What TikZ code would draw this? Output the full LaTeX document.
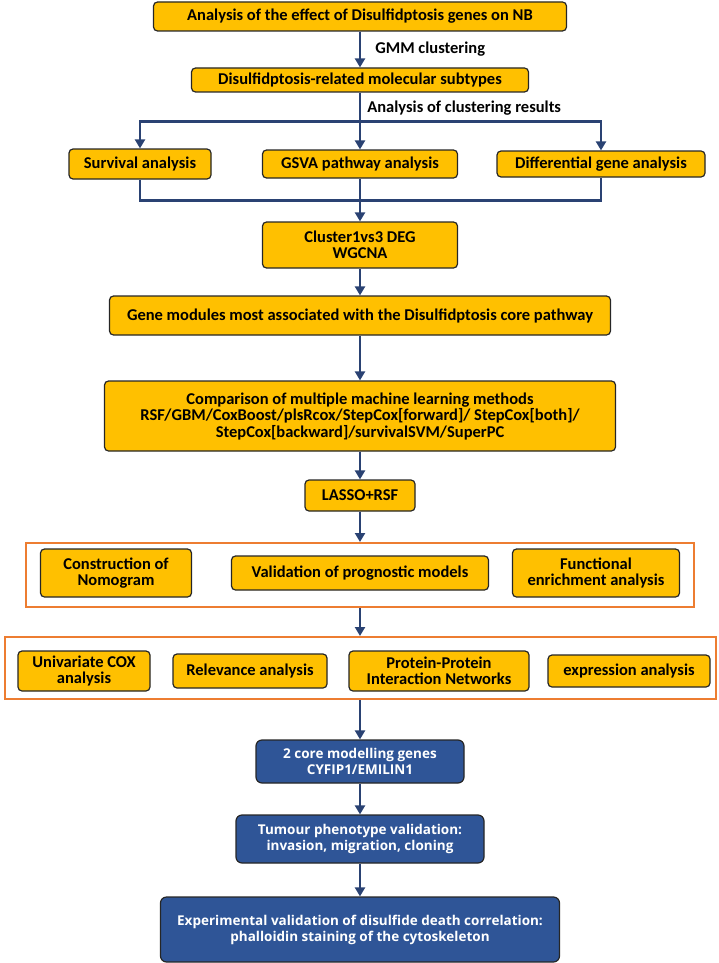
\documentclass[tikz,border=0pt]{standalone}
\usepackage{fontspec}
\setmainfont{Carlito}
\newfontfamily\bluefont{Open Sans}
\usetikzlibrary{arrows.meta}

\definecolor{gold}{HTML}{FFC000}
\definecolor{deepblue}{HTML}{2F5597}
\definecolor{arrowblue}{HTML}{2A4273}
\definecolor{frameorange}{HTML}{ED7D31}
\definecolor{boxedge}{HTML}{262626}

\tikzset{
  stage/.style={rectangle, rounded corners=4pt, draw=boxedge, line width=1.2pt, fill=gold,
    align=center, inner sep=1pt, font=\bfseries\fontsize{16.5pt}{16.5pt}\selectfont},
  corebox/.style={stage, rounded corners=6pt, fill=deepblue, text=white,
    font=\bluefont\bfseries\fontsize{13.5pt}{16pt}\selectfont},
  panel/.style={rectangle, draw=frameorange, line width=2pt, fill=white},
  link/.style={draw=arrowblue, line width=2.7pt},
  flow/.style={link, -{Triangle[width=10pt,length=9pt]}},
  note/.style={font=\bfseries\fontsize{16.5pt}{16.5pt}\selectfont, inner sep=0pt}
}

\begin{document}
\begin{tikzpicture}[x=1pt,y=1pt]
  \useasboundingbox (0,0) rectangle (718,-963);

  % Define nodes
  \node (effect) [stage, minimum width=413pt, minimum height=29pt] at (360,-16.5) {Analysis of the effect of Disulfidptosis genes on NB};
  \node (subtypes) [stage, node distance=63.5pt, below of=effect, minimum width=337pt, minimum height=24pt] {Disulfidptosis-related molecular subtypes};
  \node (gsva) [stage, node distance=84pt, below of=subtypes, minimum width=195pt, minimum height=28pt] {GSVA pathway analysis};
  \node (survival) [stage, node distance=220pt, left of=gsva, minimum width=142pt, minimum height=30pt] {Survival analysis};
  \node (differential) [stage, node distance=241pt, right of=gsva, minimum width=208pt, minimum height=26pt] {Differential gene analysis};
  \node (cluster) [stage, node distance=81pt, below of=gsva, minimum width=195pt, minimum height=46pt] {Cluster1vs3 DEG\\WGCNA};
  \node (modules) [stage, node distance=70.5pt, below of=cluster, minimum width=501pt, minimum height=39pt] {Gene modules most associated with the Disulfidptosis core pathway};
  \node (methods) [stage, node distance=100.5pt, below of=modules, minimum width=511pt, minimum height=70pt] {Comparison of multiple machine learning methods\\RSF/GBM/CoxBoost/plsRcox/StepCox[forward]/ StepCox[both]/\\StepCox[backward]/survivalSVM/SuperPC};
  \node (lasso) [stage, node distance=79.5pt, below of=methods, minimum width=110pt, minimum height=31pt] {LASSO+RSF};

  \node (frame1) [panel, node distance=79.5pt, below of=lasso, minimum width=668pt, minimum height=64pt] {};
  \node (validation) [stage, node distance=77.5pt, below of=lasso, minimum width=257pt, minimum height=34pt] {Validation of prognostic models};
  \node (nomogram) [stage, node distance=244pt, left of=validation, minimum width=151pt, minimum height=48pt] {Construction of\\Nomogram};
  \node (functional) [stage, node distance=236pt, right of=validation, minimum width=167pt, minimum height=48pt] {Functional\\enrichment analysis};

  \node (frame2) [panel, node distance=93pt, below of=frame1, minimum width=711pt, minimum height=62pt] {};
  \node (relevance) [stage, node distance=98pt, below of=validation, xshift=-110pt, minimum width=154pt, minimum height=34pt] {Relevance analysis};
  \node (univariate) [stage, node distance=166pt, left of=relevance, minimum width=132pt, minimum height=40pt] {Univariate COX\\analysis};
  \node (ppi) [stage, node distance=189pt, right of=relevance, minimum width=180pt, minimum height=40pt] {Protein-Protein\\Interaction Networks};
  \node (expression) [stage, node distance=190pt, right of=ppi, minimum width=162pt, minimum height=32pt] {expression analysis};

  \node (core) [corebox, node distance=93.5pt, below of=frame2, minimum width=208pt, minimum height=43pt] {2 core modelling genes\\CYFIP1/EMILIN1};
  \node (tumour) [corebox, node distance=77.5pt, below of=core, minimum width=248pt, minimum height=48pt] {Tumour phenotype validation:\\invasion, migration, cloning};
  \node (experiment) [corebox, node distance=90.5pt, below of=tumour, minimum width=399pt, minimum height=65pt] {Experimental validation of disulfide death correlation:\\phalloidin staining of the cytoskeleton};

  \coordinate (split) at ([yshift=-29pt]subtypes.south);
  \coordinate (merge) at ([yshift=-22pt]gsva.south);

  % Draw edges
  \draw [flow] (effect) -- node[note, right, xshift=14pt] {GMM clustering} (subtypes);
  \draw [link] (subtypes) -- node[note, right, xshift=6pt, yshift=-1pt] {Analysis of clustering results} (split);
  \draw [flow] (split) -| (survival);
  \draw [flow] (split) -- (gsva);
  \draw [flow] (split) -| (differential);
  \draw [link] (survival) |- (merge) -| (differential);
  \draw [flow] (gsva) -- (cluster);
  \draw [flow] (cluster) -- (modules);
  \draw [flow] (modules) -- (methods);
  \draw [flow] (methods) -- (lasso);
  \draw [flow] (lasso) -- (frame1);
  \draw [flow] (frame1) -- (frame2);
  \draw [flow] (frame2) -- (core);
  \draw [flow] (core) -- (tumour);
  \draw [flow] (tumour) -- (experiment);
\end{tikzpicture}
\end{document}
